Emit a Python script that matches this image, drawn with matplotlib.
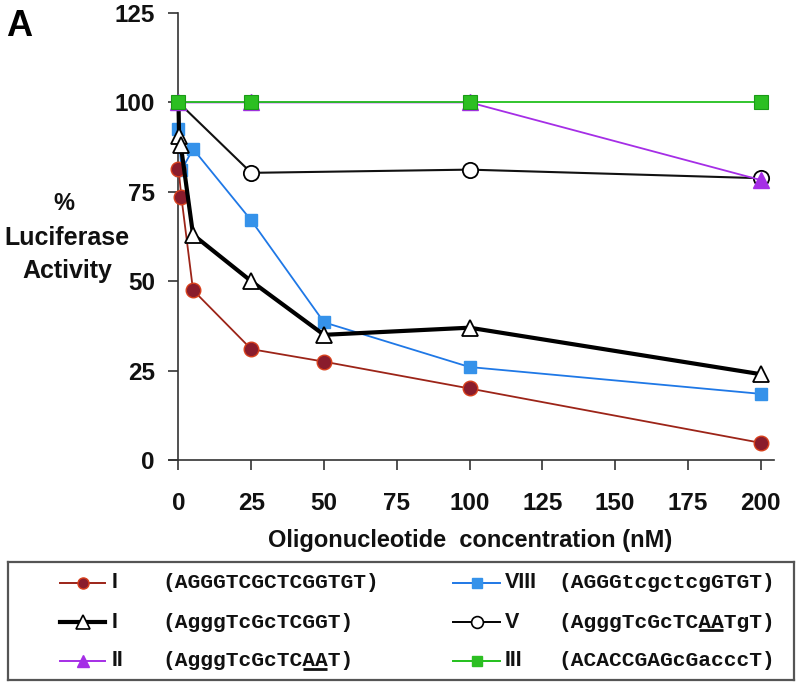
import matplotlib
matplotlib.use('Agg')
import matplotlib.pyplot as plt
from matplotlib import font_manager

# ---------------- data ----------------
conc_I = [0, 1, 5, 25, 50, 100, 200]
act_I = [81.5, 73.5, 47.5, 31, 27.5, 20, 4.8]

conc_VIII = [0, 1, 5, 25, 50, 100, 200]
act_VIII = [92.5, 81, 87, 67, 38.5, 26, 18.5]

conc_Ishort = [0, 0.2, 0.8, 5, 25, 50, 100, 200]
act_Ishort = [100, 90.5, 88, 63, 50, 35, 37, 24]

conc_V = [0, 25, 100, 200]
act_V = [100, 80.3, 81.2, 78.8]

conc_II = [0, 25, 100, 200]
act_II = [100, 100, 100, 78.3]

conc_III = [0, 25, 100, 200]
act_III = [100, 100, 100, 100]

xticks = [0, 25, 50, 75, 100, 125, 150, 175, 200]
yticks = [0, 25, 50, 75, 100, 125]

legend_left = [("I", "(AGGGTCGCTCGGTGT)", None),
               ("I", "(AgggTcGcTCGGT)", None),
               ("II", "(AgggTcGcTCAAT)", (11, 13))]
legend_right = [("VIII", "(AGGGtcgctcgGTGT)", None),
                ("V", "(AgggTcGcTCAATgT)", (11, 13)),
                ("III", "(ACACCGAGcGacccT)", None)]

# ---------------- styles ----------------
RED_L, RED_F, RED_E = '#9c2418', '#8a1c2c', '#d8401c'
BLUE_L, BLUE_F = '#1f78e6', '#3592ea'
PURP = '#a52ee6'
GREEN_L, GREEN_F = '#22c01c', '#2cbf22'

names = {f.name for f in font_manager.fontManager.ttflist}
SANS = 'Liberation Sans'
NARROW = 'Liberation Sans Narrow' if 'Liberation Sans Narrow' in names else 'Liberation Sans'
MONO = 'Liberation Mono'
plt.rcParams['font.family'] = [SANS, 'DejaVu Sans']

W, H = 800, 688
fig = plt.figure(figsize=(8, 6.88), dpi=100)

# main axes: left edge px 169, right 774, top 13, bottom 460
ax = fig.add_axes([169 / W, (H - 460) / H, (774 - 169) / W, (460 - 13) / H])
ax.set_xlim(-3.26, 204.6)
ax.set_ylim(0, 125)
for s in ['top', 'right']:
    ax.spines[s].set_visible(False)
ax.spines['left'].set_position(('data', 0))
for s in ['left', 'bottom']:
    ax.spines[s].set_color('#333333')
    ax.spines[s].set_linewidth(1.2)

ax.set_xticks(xticks)
ax.set_yticks(yticks)
ax.tick_params(axis='y', direction='out', length=7, width=1.2, color='#333333',
               pad=10, labelsize=17.5)
ax.tick_params(axis='x', direction='out', length=7, width=1.2, color='#333333',
               pad=16, labelsize=17.5)
for lab in ax.get_xticklabels() + ax.get_yticklabels():
    lab.set_fontweight('bold')
    lab.set_color('#111111')

ax.plot(conc_VIII, act_VIII, '-', color=BLUE_L, lw=1.3, marker='s', ms=9,
        mfc=BLUE_F, mec=BLUE_F, clip_on=False, zorder=3)
ax.plot(conc_I, act_I, '-', color=RED_L, lw=1.3, marker='o', ms=10.5,
        mfc=RED_F, mec=RED_E, mew=1.0, clip_on=False, zorder=4)
ax.plot(conc_Ishort, act_Ishort, '-', color='black', lw=3.0, marker='^', ms=12,
        mfc='white', mec='black', mew=1.3, markevery=list(range(1, len(conc_Ishort))),
        clip_on=False, zorder=5)
ax.plot(conc_V, act_V, '-', color='#111111', lw=1.5, marker='o', ms=11,
        mfc='white', mec='black', mew=1.3, markevery=list(range(1, len(conc_V))),
        clip_on=False, zorder=6)
ax.plot(conc_II, act_II, '-', color=PURP, lw=1.3, marker='^', ms=11.5,
        mfc=PURP, mec=PURP, clip_on=False, zorder=7)
ax.plot(conc_III, act_III, '-', color=GREEN_L, lw=1.3, marker='s', ms=9.5,
        mfc=GREEN_F, mec='#1a9a16', mew=0.8, clip_on=False, zorder=8)

# axis label
fig.text(470 / W, 1 - 540 / H, "Oligonucleotide  concentration (nM)",
         ha='center', va='center', fontsize=17, fontweight='bold', color='#111111')
# y label
fig.text(64 / W, 1 - 203 / H, "%", ha='center', va='center', fontsize=17,
         fontweight='bold', color='#111111')
fig.text(67 / W, 1 - 238 / H, "Luciferase", ha='center', va='center', fontsize=18,
         fontweight='bold', color='#111111')
fig.text(67 / W, 1 - 271 / H, "Activity", ha='center', va='center', fontsize=18,
         fontweight='bold', color='#111111')
# panel letter
fig.text(6 / W, 1 - 26 / H, "A", ha='left', va='center', fontsize=26,
         fontweight='heavy', color='black')

# ---------------- legend box ----------------
lax = fig.add_axes([8 / W, (H - 680) / H, (794 - 8) / W, (680 - 562) / H])
lax.set_xlim(8, 794)
lax.set_ylim(680, 562)
lax.set_xticks([])
lax.set_yticks([])
for s in lax.spines.values():
    s.set_color('#555555')
    s.set_linewidth(1.6)

rows_y = [583, 622, 661]
left_styles = [dict(color=RED_L, lw=1.4, marker='o', ms=8, mfc=RED_F, mec=RED_E),
               dict(color='black', lw=3.0, marker='^', ms=10, mfc='white', mec='black', mew=1.2),
               dict(color=PURP, lw=1.4, marker='^', ms=9, mfc=PURP, mec=PURP)]
right_styles = [dict(color=BLUE_L, lw=1.4, marker='s', ms=7, mfc=BLUE_F, mec=BLUE_F),
                dict(color='black', lw=1.4, marker='o', ms=8.5, mfc='white', mec='black', mew=1.2),
                dict(color=GREEN_L, lw=1.4, marker='s', ms=7.5, mfc=GREEN_F, mec=GREEN_F)]

fig.canvas.draw()
renderer = fig.canvas.get_renderer()


def legend_column(entries, styles, x_line0, x_line1, x_lab, x_seq):
    for (lab, seq, ul), st, y in zip(entries, styles, rows_y):
        lax.plot([x_line0, (x_line0 + x_line1) / 2, x_line1], [y, y, y],
                 markevery=[1], clip_on=False, **st)
        lax.text(x_lab, y, lab, ha='left', va='center', fontsize=15.5,
                 family=NARROW, fontweight='bold', color='#111111')
        t = lax.text(x_seq, y, seq, ha='left', va='center', fontsize=15.3,
                     family=MONO, fontweight='bold', color='#111111')
        if ul is not None:
            bb = t.get_window_extent(renderer=renderer)
            cw = bb.width / len(seq)
            lax.plot([x_seq + ul[0] * cw + 1, x_seq + ul[1] * cw - 1], [y + 8, y + 8],
                     color='#111111', lw=2.0, solid_capstyle='butt')


legend_column(legend_left, left_styles, 60, 105, 112, 162)
legend_column(legend_right, right_styles, 453, 500, 505, 558)

fig.savefig('out.png', dpi=100)
